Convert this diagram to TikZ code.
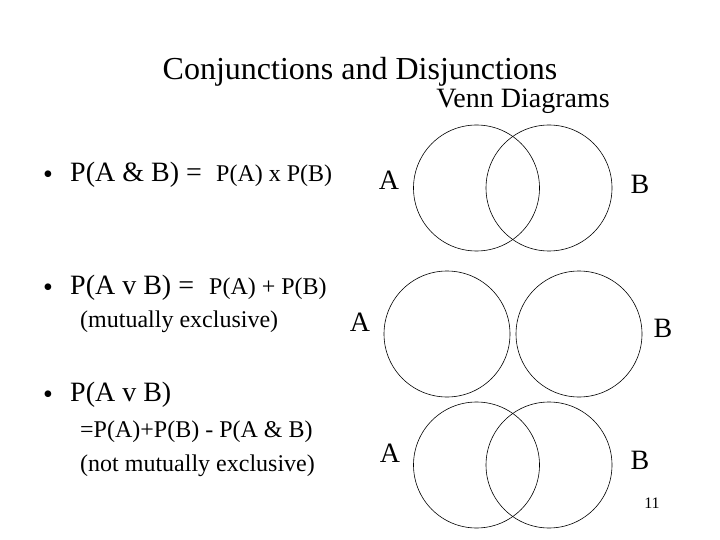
\documentclass[tikz,border=0pt]{standalone}
\usepackage{fontspec}
\setmainfont{Liberation Serif}
\usepackage{tikz}

\begin{document}
\begin{tikzpicture}[x=1pt, y=-1pt, every node/.style={inner sep=0pt},
    venn/.style={draw, circle, minimum size=126pt, line width=0.6pt},
    big/.style={font=\fontsize{28}{30}\selectfont},
    small/.style={font=\fontsize{24}{26}\selectfont},
    dot/.style={font=\fontsize{28}{30}\selectfont}]
    \useasboundingbox (0,0) rectangle (720,540);
    % titles
    \node[font=\fontsize{32}{34}\selectfont] (title) at (360,72) {Conjunctions and Disjunctions};
    \node[font=\fontsize{28}{30}\selectfont] (sub) at (523,101) {Venn Diagrams};
    % bullet 1
    \node[dot] (d1) at (48,177) {\textbullet};
    \node[big, anchor=west] (b1) at (70,175) {P(A \& B) =};
    \node[small, anchor=west] (b1r) at (216,176) {P(A) x P(B)};
    % bullet 2
    \node[dot] (d2) at (48,290) {\textbullet};
    \node[big, anchor=west] (b2) at (70,288) {P(A v B) =};
    \node[small, anchor=west] (b2r) at (209,289) {P(A) + P(B)};
    \node[small, anchor=west] (b2n) at (80,322) {(mutually exclusive)};
    % bullet 3
    \node[dot] (d3) at (48,397) {\textbullet};
    \node[big, anchor=west] (b3) at (70,395) {P(A v B)};
    \node[small, anchor=west] (b3r) at (80,432) {=P(A)+P(B) - P(A \& B)};
    \node[small, anchor=west] (b3n) at (80,466) {(not mutually exclusive)};
    % venn diagrams
    \node[venn] (c1a) at (476.5,188) {};
    \node[venn] (c1b) at (549,188) {};
    \node[venn] (c2a) at (447,334) {};
    \node[venn] (c2b) at (579,334) {};
    \node[venn] (c3a) at (476.5,465) {};
    \node[venn] (c3b) at (549,465) {};
    \node[big] (la1) at (389,180) {A};
    \node[big] (lb1) at (640,184) {B};
    \node[big] (la2) at (360,322) {A};
    \node[big] (lb2) at (663,328) {B};
    \node[big] (la3) at (390,453) {A};
    \node[big] (lb3) at (640,460) {B};
    \node[font=\fontsize{16}{18}\selectfont] (num) at (652,503) {11};
\end{tikzpicture}
\end{document}
